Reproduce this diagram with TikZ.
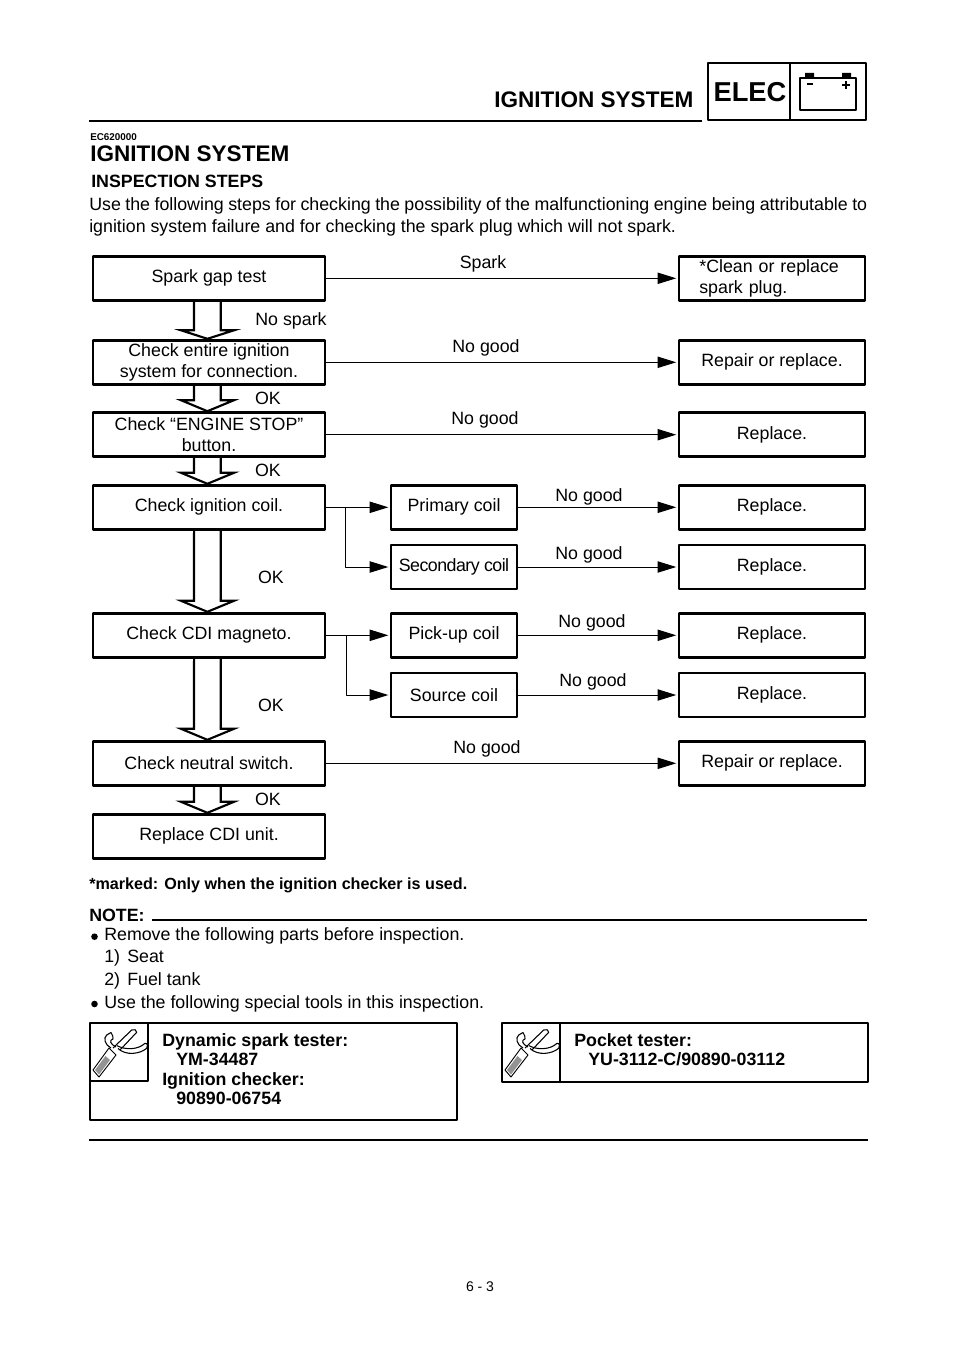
\documentclass[tikz,border=0pt]{standalone}
\usepackage{fontspec}
\setmainfont{Liberation Sans}
\usetikzlibrary{arrows.meta,calc}
\newcommand{\bodyfont}{\fontsize{13.35}{15.6}\selectfont}
\tikzset{
    box/.style={draw,line width=2pt,inner sep=0,outer sep=0,align=center,font=\bodyfont},
    leftbox/.style={box,minimum width=174pt,minimum height=33pt},
    midbox/.style={box,minimum width=94.5pt,minimum height=33pt},
    rightbox/.style={box,minimum width=139.7pt,minimum height=33pt},
    lab/.style={inner sep=0,anchor=base,font=\bodyfont},
    txt/.style={inner sep=0,anchor=base west,font=\bodyfont},
    btxt/.style={inner sep=0,anchor=base west,font=\bodyfont\bfseries},
    link/.style={line width=0.75pt,shorten >=2pt,-{Triangle[length=14pt,width=8.5pt]}},
    frame/.style={draw,line width=1.8pt},
}
% block arrow between two boxes
\newcommand{\blockarrow}[3][12.5]{
    \draw[line width=1.6pt,line join=miter]
    ([xshift=-11.2pt]#2.south)--($(#3.north)+(-15,-#1)$)--($(#3.north)+(-28,-#1)$)--($(#3.north)+(-1.6,-1.5)$)
    --($(#3.north)+(25,-#1)$)--($(#3.north)+(11.7,-#1)$)--([xshift=8.8pt]#2.south);
}
% spanner symbol
\newcommand{\spanner}[2]{
    \begin{scope}[shift={(#1,#2)}]
        \draw[line width=0.7pt] (3,47)--(9,54)--(26,32)--(19,25)--cycle;
        \fill[gray!85] (5,47)--(9,51.5)--(20,37)--(15.5,33)--cycle;
        \draw[line width=0.8pt] (23,25)--(41.7,7) .. controls (44,5.5) and (47,7) .. (46.7,9.3)--(30,27);
        \draw[line width=0.8pt] (27,22.7) .. controls (35,27) and (48,27) .. (55,20.3)
        .. controls (58,20) and (58,24) .. (56.7,25.3) .. controls (50,31) and (36,33) .. (28,25.5);
        \draw[line width=0.8pt] (21,25) .. controls (15,22) and (13,15) .. (16.7,12)--(21,9.5)
        .. controls (23,12) and (23,14) .. (23,16) .. controls (19,17) and (20,21) .. (26,24);
    \end{scope}
}
\begin{document}
\begin{tikzpicture}[x=0.75pt,y=-0.75pt,line join=round]
    \useasboundingbox (0,0) rectangle (960,1358);
    %header
    \node[btxt,font=\fontsize{16.9}{20}\selectfont\bfseries] (headtitle) at (494,108) {IGNITION SYSTEM};
    \draw[line width=2.2pt] (89,121)--(702,121);
    \draw[frame,line width=2pt] (708,63) rectangle (866,120);
    \draw[line width=2pt] (790,63)--(790,120);
    \node[inner sep=0,anchor=base,font=\fontsize{20.5}{24}\selectfont\bfseries] (headelec) at (750,102) {ELEC};
    \draw[line width=0.8pt] (800,78) rectangle (856,110);
    \fill (805,73) rectangle (814,78) (842,73) rectangle (851,78);
    \draw[line width=0.8pt] (807,84)--(813,84) (842,85)--(850,85) (846,81)--(846,89);
    %title
    \node[btxt,font=\fontsize{7.4}{9}\selectfont\bfseries] (code) at (90,141) {EC620000};
    \node[btxt,font=\fontsize{16.9}{20}\selectfont\bfseries] (title) at (90,162) {IGNITION SYSTEM};
    \node[btxt] (steps) at (91,188) {INSPECTION STEPS};
    \node[inner sep=0,anchor=north west,align=left,font=\fontsize{13.35}{16.5}\selectfont] (intro) at (89,197)
    {\makebox[583.5pt][s]{Use the following steps for checking the possibility of the malfunctioning engine being attributable to}\\
    ignition system failure and for checking the spark plug which will not spark.};
    %left column
    \node[leftbox] (gap) at (209,278.3) {Spark gap test};
    \node[leftbox] (entire) at (209,362.3) {Check entire ignition\\system for connection.};
    \node[leftbox] (stop) at (209,434.7) {Check “ENGINE STOP”\\button.};
    \node[leftbox] (coil) at (209,507.3) {Check ignition coil.};
    \node[leftbox] (magneto) at (209,635.3) {Check CDI magneto.};
    \node[leftbox] (neutral) at (209,763.3) {Check neutral switch.};
    \node[leftbox] (cdi) at (209,836.3) {Replace CDI unit.};
    %middle column
    \node[midbox] (primary) at (454,507.3) {Primary coil};
    \node[midbox] (secondary) at (454,567) {\addfontfeatures{LetterSpace=-3}Secondary coil};
    \node[midbox] (pickup) at (454,635.3) {Pick-up coil};
    \node[midbox] (source) at (454,695) {Source coil};
    %right column
    \node[rightbox,text width=109pt,align=left] (clean) at (772,278.3) {*Clean or replace\\spark plug.};
    \node[rightbox] (repaira) at (772,362.3) {Repair or replace.};
    \node[rightbox] (repb) at (772,434.7) {Replace.};
    \node[rightbox] (repc) at (772,507.3) {Replace.};
    \node[rightbox] (repd) at (772,567) {Replace.};
    \node[rightbox] (repe) at (772,635.3) {Replace.};
    \node[rightbox] (repf) at (772,695) {Replace.};
    \node[rightbox] (repairb) at (772,763.3) {Repair or replace.};
    %block arrows
    \blockarrow[10]{gap}{entire}
    \blockarrow{entire}{stop}
    \blockarrow{stop}{coil}
    \blockarrow{coil}{magneto}
    \blockarrow{magneto}{neutral}
    \blockarrow{neutral}{cdi}
    %connectors
    \draw[link] (gap)--(clean);
    \draw[link] (entire)--(repaira);
    \draw[link] (stop)--(repb);
    \draw[link] (coil)--(primary);
    \draw[link] (primary)--(repc);
    \draw[link] (secondary)--(repd);
    \draw[link] ($(coil.east)+(20.5,0)$)|-(secondary);
    \draw[link] (magneto)--(pickup);
    \draw[link] (pickup)--(repe);
    \draw[link] (source)--(repf);
    \draw[link] ($(magneto.east)+(21.5,0)$)|-(source);
    \draw[link] (neutral)--(repairb);
    %labels
    \node[lab] (lspark) at (483,269) {Spark};
    \node[lab] (lnospark) at (291,326) {No spark};
    \node[lab] (lnga) at (486,353) {No good};
    \node[lab] (loka) at (268,404) {OK};
    \node[lab] (lngb) at (485,424) {No good};
    \node[lab] (lokb) at (268,476) {OK};
    \node[lab] (lngc) at (589,501) {No good};
    \node[lab] (lngd) at (589,559) {No good};
    \node[lab] (lokc) at (271,583) {OK};
    \node[lab] (lnge) at (592,627) {No good};
    \node[lab] (lngf) at (593,686) {No good};
    \node[lab] (lokd) at (271,711) {OK};
    \node[lab] (lngg) at (487,753) {No good};
    \node[lab] (loke) at (268,805) {OK};
    %note
    \node[btxt,font=\fontsize{12.1}{14}\selectfont\bfseries] (marked) at (89,889) {*marked: Only when the ignition checker is used.};
    \node[btxt] (note) at (89,921) {NOTE:};
    \draw[line width=1.9pt] (152,920)--(867,920);
    \fill (94.5,936.7) circle (3.3);
    \node[txt] (notea) at (104,940) {Remove the following parts before inspection.};
    \node[txt] (noteb) at (104,962) {1)};
    \node[txt] (notebb) at (127,962) {Seat};
    \node[txt] (notec) at (104,985) {2)};
    \node[txt] (notecc) at (127,985) {Fuel tank};
    \fill (94.5,1004) circle (3.3);
    \node[txt] (noted) at (104,1008) {Use the following special tools in this inspection.};
    %tool boxes
    \draw[frame] (90,1023) rectangle (457,1120);
    \draw[frame] (90,1081) -| (148,1023);
    \spanner{90}{1023}
    \node[btxt] (toola) at (162,1046) {Dynamic spark tester:};
    \node[btxt] (toolb) at (176,1065) {YM-34487};
    \node[btxt] (toolc) at (162,1085) {Ignition checker:};
    \node[btxt] (toold) at (176,1104) {90890-06754};
    \draw[frame] (502,1023) rectangle (868,1082);
    \draw[frame] (560,1023)--(560,1082);
    \spanner{502}{1023}
    \node[btxt] (toole) at (574,1046) {Pocket tester:};
    \node[btxt] (toolf) at (588,1065) {YU-3112-C/90890-03112};
    \draw[line width=2.2pt] (89,1140)--(868,1140);
    \node[lab,font=\fontsize{10.5}{12}\selectfont] (page) at (480,1291) {6 - 3};
\end{tikzpicture}
\end{document}
